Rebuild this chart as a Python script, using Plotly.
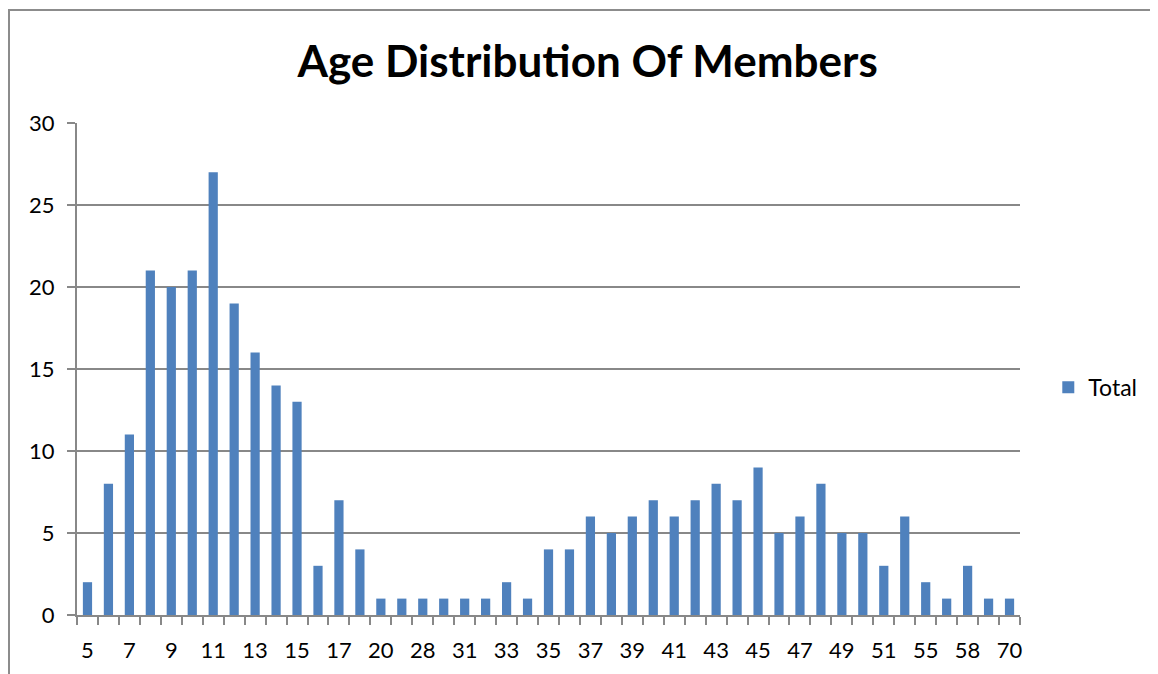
import plotly.graph_objects as go

ages = ["5", "6", "7", "8", "9", "10", "11", "12", "13", "14", "15", "16", "17", "18",
        "20", "22", "28", "30", "31", "32", "33", "34", "35", "36", "37", "38", "39",
        "40", "41", "42", "43", "44", "45", "46", "47", "48", "49", "50", "51", "53",
        "55", "56", "58", "62", "70"]
totals = [2, 8, 11, 21, 20, 21, 27, 19, 16, 14, 13, 3, 7, 4,
          1, 1, 1, 1, 1, 1, 2, 1, 4, 4, 6, 5, 6,
          7, 6, 7, 8, 7, 9, 5, 6, 8, 5, 5, 3, 6,
          2, 1, 3, 1, 1]
tick_labels = [a if i % 2 == 0 else "" for i, a in enumerate(ages)]

font_family = "Lato, Open Sans, sans-serif"
grid_col = "#888888"

W, H = 1150, 666
L, T, R, B = 69, 115, 138, 59
PW, PH = W - L - R, H - T - B

fig = go.Figure()
fig.add_trace(go.Bar(x=ages, y=totals, name="Total", marker=dict(color="#4F81BD", line=dict(width=0))))

fig.update_layout(
    width=W, height=H,
    margin=dict(l=L, r=R, t=T, b=B, autoexpand=False),
    paper_bgcolor="white", plot_bgcolor="white",
    bargap=0.56,
    showlegend=True,
    title=dict(text="<b>Age Distribution Of Members</b>", x=0.504, xanchor="center",
               y=1 - 54 / H, yanchor="middle", yref="container",
               font=dict(family=font_family, size=44, color="black")),
    legend=dict(x=1.03, y=0.463, xanchor="left", yanchor="middle",
                font=dict(family=font_family, size=23, color="black"),
                bgcolor="rgba(0,0,0,0)", itemwidth=30),
    font=dict(family=font_family, color="black"),
)
fig.update_xaxes(
    type="category", tickmode="array", tickvals=ages, ticktext=tick_labels,
    tickson="boundaries", ticks="outside", ticklen=8, tickcolor=grid_col, tickwidth=2,
    showline=True, linecolor=grid_col, linewidth=2, showgrid=False, tickangle=0,
    automargin=False,
    tickfont=dict(family=font_family, size=22, color="black"), ticklabelstandoff=15,
)
fig.update_yaxes(
    range=[0, 30], dtick=5, ticks="outside", ticklen=8, tickcolor=grid_col, tickwidth=2,
    showline=True, linecolor=grid_col, linewidth=2, showgrid=True, gridcolor=grid_col,
    gridwidth=2, zeroline=False, automargin=False,
    tickfont=dict(family=font_family, size=22, color="black"), ticklabelstandoff=8,
)
bx0 = (1 - L) / PW
bx1 = (W + 20 - L) / PW
by0 = -(B + 20) / PH
by1 = 1 + (T - 2) / PH
fig.add_shape(type="path", xref="paper", yref="paper",
              path=f"M {bx0},{by0} L {bx0},{by1} L {bx1},{by1}",
              line=dict(color="#8c8c8c", width=2), layer="below")

fig.write_html("out.html")
